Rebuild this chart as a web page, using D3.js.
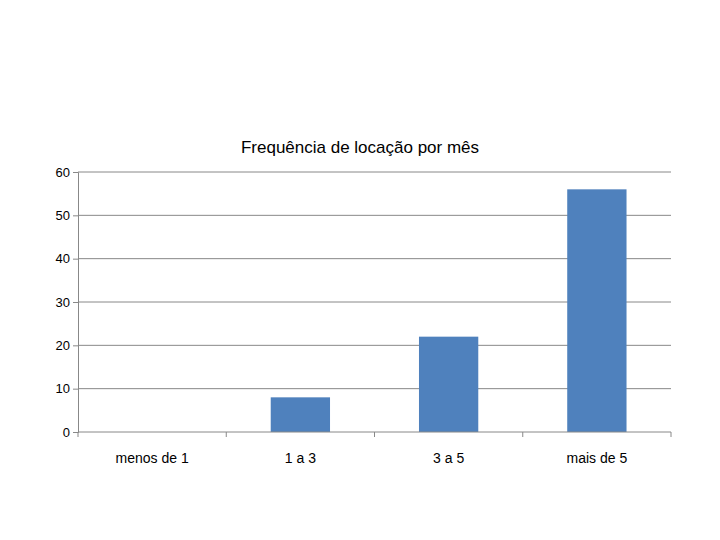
<!DOCTYPE html>
<html><head><meta charset="utf-8">
<script src="https://cdn.jsdelivr.net/npm/d3@7"></script>
<style>body{margin:0;background:#fff}text{font-family:"Liberation Sans",Arial,sans-serif}</style>
</head><body>
<svg id="c" width="720" height="540"></svg>
<script>
const categories = ["menos de 1", "1 a 3", "3 a 5", "mais de 5"];
const values = [0, 8, 22, 56];
const yTicks = [0, 10, 20, 30, 40, 50, 60];

const svg = d3.select("#c");
const plotLeft = 78, plotRight = 671, plotTop = 172, plotBottom = 432;

const x = d3.scaleBand().domain(categories).range([plotLeft, plotRight]).paddingInner(0.6).paddingOuter(0.3);
const xb = d3.scaleBand().domain(categories).range([plotLeft, plotRight]);
const y = d3.scaleLinear().domain([0, 60]).range([plotBottom, plotTop]);

// gridlines
svg.append("g").selectAll("line").data(yTicks.slice(1)).enter().append("line")
  .attr("x1", plotLeft).attr("x2", plotRight)
  .attr("y1", d => y(d)).attr("y2", d => y(d))
  .attr("stroke", "#888").attr("stroke-width", 1);

// bars
svg.append("g").selectAll("rect").data(values).enter().append("rect")
  .attr("x", (d, i) => x(categories[i]))
  .attr("width", x.bandwidth())
  .attr("y", d => y(d))
  .attr("height", d => plotBottom - y(d))
  .attr("fill", "#4f81bd");

// y axis
const ya = svg.append("g").attr("transform", `translate(${plotLeft},0)`)
  .call(d3.axisLeft(y).tickValues(yTicks).tickSize(5).tickPadding(3));
ya.select(".domain").attr("stroke", "#888");
ya.selectAll(".tick line").attr("stroke", "#888");
ya.selectAll("text").attr("font-size", 13).attr("fill", "#000");

// x axis
const xa = svg.append("g").attr("transform", `translate(0,${plotBottom})`);
xa.append("line").attr("x1", plotLeft).attr("x2", plotRight).attr("stroke", "#888");
xa.selectAll("line.t").data(d3.range(categories.length + 1)).enter().append("line")
  .attr("class", "t")
  .attr("x1", i => plotLeft + i * xb.step()).attr("x2", i => plotLeft + i * xb.step())
  .attr("y1", 0).attr("y2", 5).attr("stroke", "#888");
xa.selectAll("text").data(categories).enter().append("text")
  .attr("x", d => xb(d) + xb.bandwidth() / 2).attr("y", 31)
  .attr("text-anchor", "middle").attr("font-size", 14).text(d => d);

svg.append("text").attr("x", 360).attr("y", 153).attr("text-anchor", "middle")
  .attr("font-size", 17).text("Frequência de locação por mês");
</script>
</body></html>
